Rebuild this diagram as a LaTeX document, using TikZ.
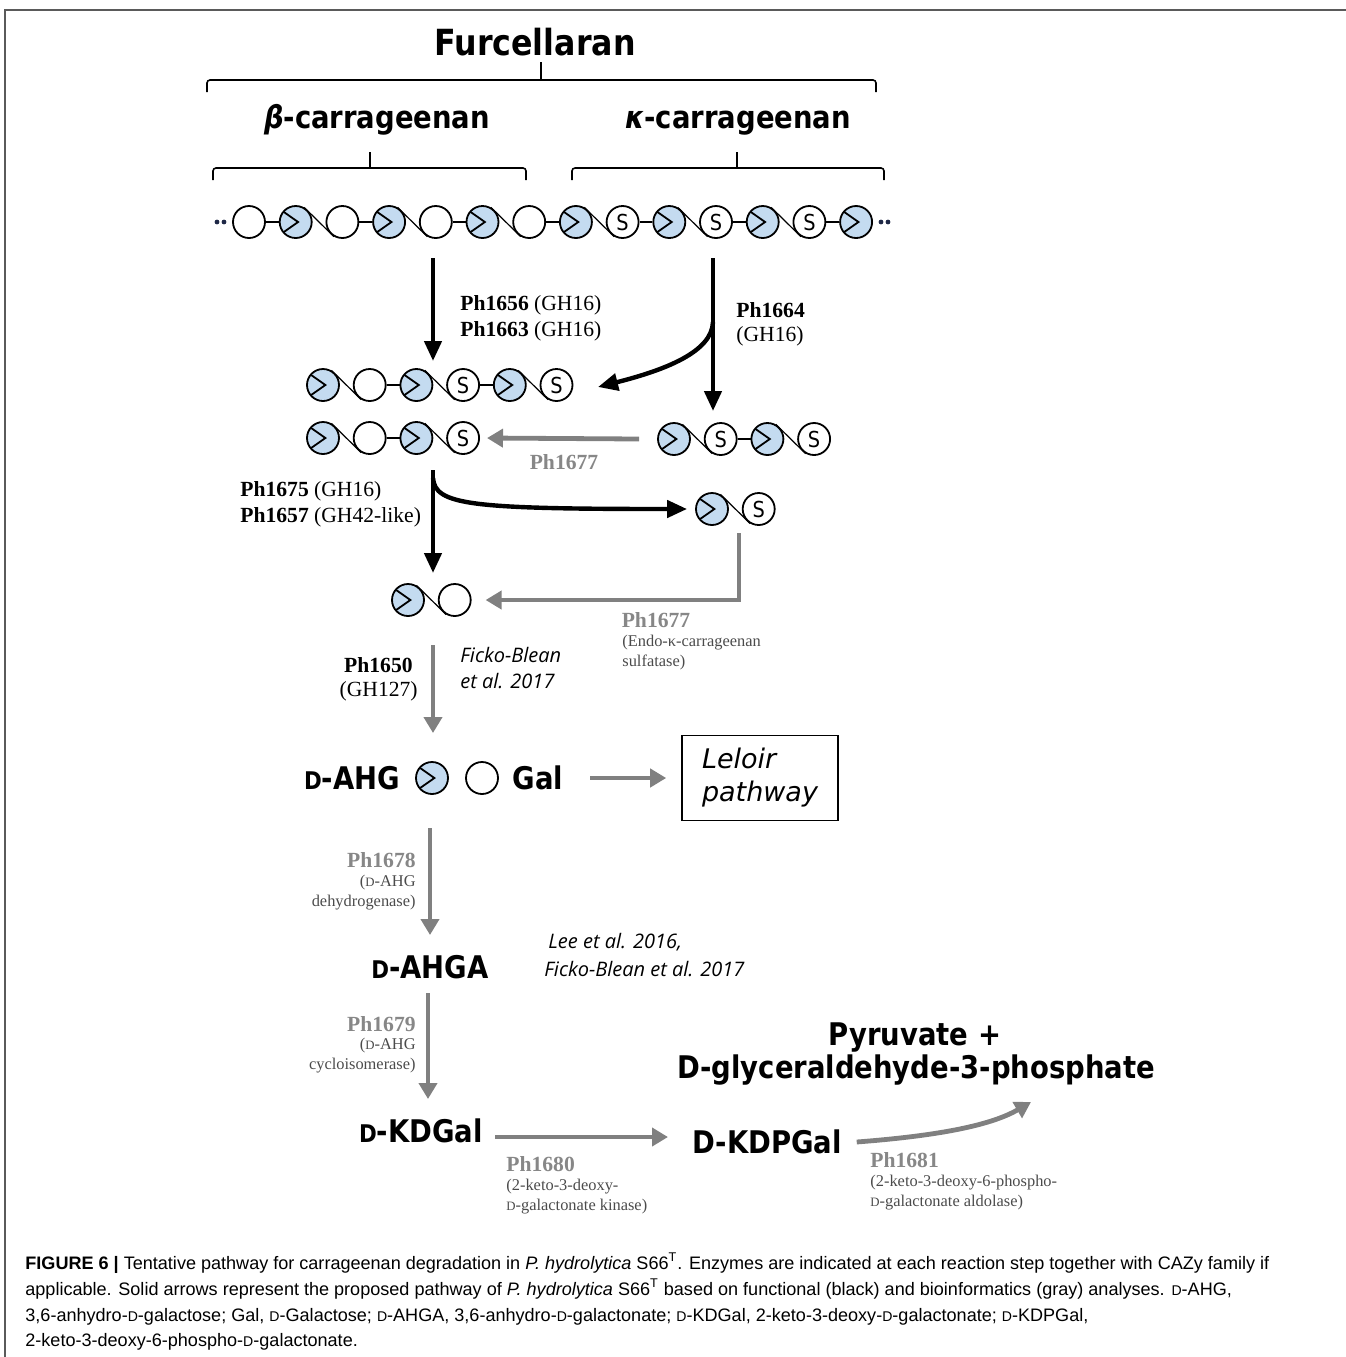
\documentclass[tikz,border=0pt]{standalone}
\usepackage{fontspec}
\usepackage{graphicx}
\setmainfont{Liberation Serif}
\newfontfamily\headfont[FakeStretch=0.88]{DejaVu Sans}
\newfontfamily\boxfont{DejaVu Sans}
\newfontfamily\citefont{Open Sans}
\newfontfamily\capfont{Liberation Sans}
\usetikzlibrary{positioning, arrows.meta}
\definecolor{sugarblue}{RGB}{196,219,240}
\definecolor{pathgray}{RGB}{128,128,128}
\definecolor{enzgray}{RGB}{135,135,135}
\definecolor{notegray}{RGB}{75,75,75}
\definecolor{framegray}{RGB}{90,90,90}
\definecolor{dotblue}{RGB}{30,40,70}
\newcommand{\smD}{\scalebox{0.78}{D}}

\begin{document}
\begin{tikzpicture}[x=0.5pt, y=-0.5pt, node distance=23.35pt,
    res/.style={circle, draw, line width=0.9pt, minimum size=16pt, inner sep=0pt},
    wres/.style={res, fill=white},
    bres/.style={res, fill=sugarblue, path picture={\draw[line width=0.9pt]
        ([shift={(140:8pt)}]path picture bounding box.center) --
        ([shift={(0:1.2pt)}]path picture bounding box.center) --
        ([shift={(220:8pt)}]path picture bounding box.center);}},
    sres/.style={res, fill=white, font=\headfont\fontsize{11pt}{11pt}\selectfont},
    sbond/.style={line width=1.1pt},
    dbond/.style={line width=0.6pt},
    blk/.style={line width=2.2pt, -{Triangle[length=10pt,width=8.5pt]}},
    gry/.style={draw=pathgray, line width=2.4pt, -{Triangle[length=8pt,width=9pt]}},
    brk/.style={line width=0.8pt, rounded corners=1.5pt},
    title/.style={font=\headfont\bfseries\fontsize{18pt}{18pt}\selectfont},
    head/.style={font=\headfont\bfseries\fontsize{15.6pt}{18pt}\selectfont},
    enz/.style={font=\fontsize{10.8pt}{12pt}\selectfont, inner sep=0pt},
    enzg/.style={enz, text=enzgray, font=\bfseries\fontsize{10.8pt}{12pt}\selectfont},
    note/.style={font=\fontsize{8.2pt}{9.5pt}\selectfont, inner sep=0pt, text=notegray},
    cite/.style={font=\citefont\itshape\fontsize{10pt}{12pt}\selectfont, inner sep=0pt},
    capt/.style={font=\capfont\fontsize{9.03pt}{11pt}\selectfont, anchor=base west, inner sep=0pt}]
    \useasboundingbox (0,0) rectangle (1346,1357);
    \draw[framegray, line width=1pt] (5,1357) -- (5,10) -- (1346,10);

    % polysaccharide names
    \node[title] (furc) at (535,42) {Furcellaran};
    \node[head, anchor=base] (beta) at (377,128) {\textit{β}-carrageenan};
    \node[head, anchor=base] (kappa) at (738,128) {\textit{κ}-carrageenan};
    \draw[brk] (207,92) -- (207,80) -- (876,80) -- (876,92);
    \draw[brk] (541,80) -- (541,62);
    \draw[brk] (213,180) -- (213,168) -- (526,168) -- (526,180);
    \draw[brk] (370,168) -- (370,152);
    \draw[brk] (572,180) -- (572,168) -- (884,168) -- (884,180);
    \draw[brk] (737,168) -- (737,152);

    % furcellaran chain
    \node[wres] (t1) at (249,222) {};
    \node[bres] (t2) [right of=t1] {};
    \node[wres] (t3) [right of=t2] {};
    \node[bres] (t4) [right of=t3] {};
    \node[wres] (t5) [right of=t4] {};
    \node[bres] (t6) [right of=t5] {};
    \node[wres] (t7) [right of=t6] {};
    \node[bres] (t8) [right of=t7] {};
    \node[sres] (t9) [right of=t8] {S};
    \node[bres] (t10) [right of=t9] {};
    \node[sres] (t11) [right of=t10] {S};
    \node[bres] (t12) [right of=t11] {};
    \node[sres] (t13) [right of=t12] {S};
    \node[bres] (t14) [right of=t13] {};
    \draw[sbond] (t1) -- (t2);
    \draw[dbond] (t2.60) -- (t3.240);
    \draw[sbond] (t3) -- (t4);
    \draw[dbond] (t4.60) -- (t5.240);
    \draw[sbond] (t5) -- (t6);
    \draw[dbond] (t6.60) -- (t7.240);
    \draw[sbond] (t7) -- (t8);
    \draw[dbond] (t8.60) -- (t9.240);
    \draw[sbond] (t9) -- (t10);
    \draw[dbond] (t10.60) -- (t11.240);
    \draw[sbond] (t11) -- (t12);
    \draw[dbond] (t12.60) -- (t13.240);
    \draw[sbond] (t13) -- (t14);
    \fill[dotblue] (217,222) circle (1.2pt) (224,222) circle (1.2pt);
    \fill[dotblue] (881,222) circle (1.2pt) (888,222) circle (1.2pt);

    % hexasaccharide
    \node[bres] (r1) at (323,385) {};
    \node[wres] (r2) [right of=r1] {};
    \node[bres] (r3) [right of=r2] {};
    \node[sres] (r4) [right of=r3] {S};
    \node[bres] (r5) [right of=r4] {};
    \node[sres] (r6) [right of=r5] {S};
    \draw[dbond] (r1.60) -- (r2.240);
    \draw[sbond] (r2) -- (r3);
    \draw[dbond] (r3.60) -- (r4.240);
    \draw[sbond] (r4) -- (r5);
    \draw[dbond] (r5.60) -- (r6.240);

    % tetrasaccharides
    \node[bres] (q1) at (323,438) {};
    \node[wres] (q2) [right of=q1] {};
    \node[bres] (q3) [right of=q2] {};
    \node[sres] (q4) [right of=q3] {S};
    \draw[dbond] (q1.60) -- (q2.240);
    \draw[sbond] (q2) -- (q3);
    \draw[dbond] (q3.60) -- (q4.240);
    \node[bres] (p1) at (674,439) {};
    \node[sres] (p2) [right of=p1] {S};
    \node[bres] (p3) [right of=p2] {};
    \node[sres] (p4) [right of=p3] {S};
    \draw[dbond] (p1.60) -- (p2.240);
    \draw[sbond] (p2) -- (p3);
    \draw[dbond] (p3.60) -- (p4.240);

    % disaccharides
    \node[bres] (d1) at (712,509) {};
    \node[sres] (d2) [right of=d1] {S};
    \draw[dbond] (d1.60) -- (d2.240);
    \node[bres] (e1) at (408,600) {};
    \node[wres] (e2) [right of=e1] {};
    \draw[dbond] (e1.60) -- (e2.240);

    % GH16 steps
    \coordinate (a1s) at (433,258);
    \coordinate (a1e) at (433,361);
    \draw[blk] (a1s) -- (a1e);
    \node[enz, anchor=west] (e1656) at (460,305) {\textbf{Ph1656} (GH16)};
    \node[enz, anchor=west] (e1663) at (460,331) {\textbf{Ph1663} (GH16)};
    \coordinate (a2s) at (713,258);
    \coordinate (a2b) at (713,322);
    \coordinate (a2e) at (713,411);
    \coordinate (a2c) at (598,387);
    \draw[blk] (a2s) -- (a2e);
    \draw[blk] (a2b) .. controls (712,352) and (665,370) .. (a2c);
    \node[enz, anchor=west] (e1664) at (736,310) {\textbf{Ph1664}};
    \node[enz, anchor=west] (g1664) at (736,336) {(GH16)};
    \draw[gry] ([xshift=-9pt]p1.west) -- ([xshift=3.5pt]q4.east);
    \node[enzg] (s1677) at (564,462) {Ph1677};

    \coordinate (a3s) at (433,470);
    \coordinate (a3b) at (433,478);
    \coordinate (a3e) at (433,573);
    \draw[blk] (a3s) -- (a3e);
    \draw[blk] (a3b) .. controls (435,505) and (470,509) .. ([xshift=-4pt]d1.west);
    \node[enz, anchor=west] (e1675) at (240,491) {\textbf{Ph1675} (GH16)};
    \node[enz, anchor=west] (e1657) at (240,517) {\textbf{Ph1657} (GH42-like)};
    \coordinate (a4s) at (739,533);
    \draw[gry] (a4s) |- ([xshift=7pt]e2.east);
    \node[enzg] (t1677) at (656,620) {Ph1677};
    \node[note, anchor=west] (n1677a) at (622,643) {(Endo-κ-carrageenan};
    \node[note, anchor=west] (n1677b) at (622,662) {sulfatase)};

    % monomers
    \coordinate (a5s) at (433,645);
    \coordinate (a5e) at (433,733);
    \draw[gry] (a5s) -- (a5e);
    \node[enz, anchor=east] (e1650) at (413,665) {\textbf{Ph1650}};
    \node[enz, anchor=east] (g1650) at (418,691) {(GH127)};
    \node[cite, anchor=west] (c1a) at (460,655) {Ficko-Blean};
    \node[cite, anchor=west] (c1b) at (460,681) {et al. 2017};
    \node[head] (ahg) at (352,778) {\smD-AHG};
    \node[bres] (f1) at (432,778) {};
    \node[wres] (f2) at (482,778) {};
    \node[head] (gal) at (538,778) {Gal};
    \node[draw, line width=0.8pt, minimum width=78pt, minimum height=42.5pt, align=left,
        font=\boxfont\itshape\fontsize{13.5pt}{16.5pt}\selectfont] (leloir) at (760,778) {Leloir\\pathway};
    \draw[gry] ([xshift=10pt]gal.east) -- ([xshift=-7.5pt]leloir.west);

    % D-AHG catabolism
    \coordinate (a6s) at (430,828);
    \coordinate (a6e) at (430,935);
    \draw[gry] (a6s) -- (a6e);
    \node[enzg, anchor=east] (e1678) at (416,860) {Ph1678};
    \node[note, anchor=east] (n1678a) at (416,883) {(\smD-AHG};
    \node[note, anchor=east] (n1678b) at (416,903) {dehydrogenase)};
    \node[head] (ahga) at (430,967) {\smD-AHGA};
    \node[cite, anchor=west] (c2a) at (548,942) {Lee et al. 2016,};
    \node[cite, anchor=west] (c2b) at (544,969) {Ficko-Blean et al. 2017};
    \coordinate (a7s) at (428,993);
    \coordinate (a7e) at (428,1099);
    \draw[gry] (a7s) -- (a7e);
    \node[enzg, anchor=east] (e1679) at (416,1024) {Ph1679};
    \node[note, anchor=east] (n1679a) at (416,1046) {(\smD-AHG};
    \node[note, anchor=east] (n1679b) at (416,1066) {cycloisomerase)};
    \node[head] (kdgal) at (421,1131) {\smD-KDGal};
    \node[head] (kdpgal) at (767,1142) {D-KDPGal};
    \coordinate (a8s) at (495,1137);
    \coordinate (a8e) at (668,1137);
    \draw[gry] (a8s) -- (a8e);
    \node[enzg, anchor=west] (e1680) at (506,1164) {Ph1680};
    \node[note, anchor=west] (n1680a) at (506,1187) {(2-keto-3-deoxy-};
    \node[note, anchor=west] (n1680b) at (506,1207) {\smD-galactonate kinase)};
    \node[head] (pyr) at (915,1037) {Pyruvate +};
    \node[head] (gap) at (916,1070) {D-glyceraldehyde-3-phosphate};
    \coordinate (a9e) at (1031,1102);
    \draw[gry] ([xshift=4pt]kdpgal.east) .. controls (935,1136) and (990,1126) .. (a9e);
    \node[enzg, anchor=west] (e1681) at (870,1160) {Ph1681};
    \node[note, anchor=west] (n1681a) at (870,1183) {(2-keto-3-deoxy-6-phospho-};
    \node[note, anchor=west] (n1681b) at (870,1203) {\smD-galactonate aldolase)};

    % caption
    \node[capt] (cap1) at (25,1269) {\textbf{FIGURE 6 |} Tentative pathway for carrageenan degradation in \textit{P. hydrolytica} S66\textsuperscript{T}. Enzymes are indicated at each reaction step together with CAZy family if};
    \node[capt] (cap2) at (25,1295) {applicable. Solid arrows represent the proposed pathway of \textit{P. hydrolytica} S66\textsuperscript{T} based on functional (black) and bioinformatics (gray) analyses. \smD-AHG,};
    \node[capt] (cap3) at (25,1321) {3,6-anhydro-\smD-galactose; Gal, \smD-Galactose; \smD-AHGA, 3,6-anhydro-\smD-galactonate; \smD-KDGal, 2-keto-3-deoxy-\smD-galactonate; \smD-KDPGal,};
    \node[capt] (cap4) at (25,1346) {2-keto-3-deoxy-6-phospho-\smD-galactonate.};
\end{tikzpicture}
\end{document}
